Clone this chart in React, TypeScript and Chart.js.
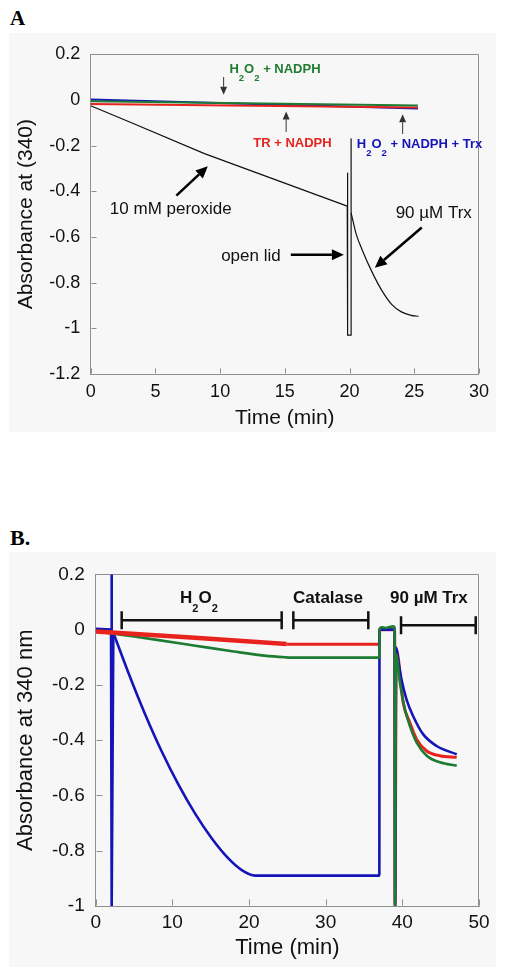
import React, { useEffect, useRef } from "react";
import { Chart, registerables } from "chart.js";
Chart.register(...registerables);

const FONT = "'Liberation Sans', Arial, Helvetica, sans-serif";
const GREEN = "#1e7b32";
const RED = "#e8231d";
const BLUE = "#1414b8";
const AXIS = "#8f8f8f";
const BG = "#f7f7f7";
const INK = "#111";

// ---------- Panel A data ----------
const aGreenTime = [0, 25.28];
const aGreenAbs = [-0.006, -0.024];
const aRedTime = [0, 25.28];
const aRedAbs = [-0.018, -0.033];
const aBlueTime = [0, 25.28];
const aBlueAbs = [0.002, -0.037];
const aPeroxideTime = [0, 3.15, 8.79, 19.82, 19.85, 19.85, 20.12, 20.12, 20.12];
const aPeroxideAbs = [-0.025, -0.1, -0.235, -0.465, -0.32, -1.03, -1.03, -0.17, -0.494];
const aTrxTime = [20.12, 20.5, 21.0, 21.75, 22.5, 23.25, 24.0, 24.75, 25.33];
const aTrxAbs = [-0.494, -0.585, -0.66, -0.755, -0.835, -0.895, -0.928, -0.943, -0.947];

// ---------- Panel B data ----------
const bRedEarlyTime = [0, 12.95, 24.9];
const bRedEarlyAbs = [-0.007, -0.029, -0.052];
const bRedLateTime = [24.9, 37.0, 37.05, 39.0, 39.05, 39.2, 40.13, 41.0, 41.87, 43.18, 44.9, 47.09];
const bRedLateAbs = [-0.053, -0.053, 0.0, 0.0, -1.0, -0.07, -0.267, -0.338, -0.397, -0.439, -0.456, -0.462];
const bGreenTime = [0, 2.1, 5, 8, 13, 18, 22, 24.7, 25.5, 37.0, 37.05, 37.3, 37.8, 38.3, 38.8, 39.0, 39.05, 39.17, 39.7, 40.35, 41.0, 41.87, 43.18, 44.9, 47.09];
const bGreenAbs = [-0.005, -0.014, -0.025, -0.037, -0.058, -0.079, -0.094, -0.1, -0.101, -0.101, 0.003, 0.009, 0.006, 0.01, 0.012, 0.008, -1.0, -0.088, -0.195, -0.29, -0.35, -0.409, -0.456, -0.48, -0.492];
const bBlueSpikeTime = [0, 2.0, 2.05, 2.12, 2.3];
const bBlueSpikeAbs = [0.003, 0.0, 0.2, -1.0, -0.011];
const bBlueTime = [2.3, 4.25, 6.43, 8.6, 10.78, 12.95, 15.13, 17.3, 19.05, 20.8, 37.0, 37.02, 39.0, 39.05, 39.2, 39.47, 39.92, 40.57, 41.43, 42.73, 44.48, 47.09];
const bBlueAbs = [-0.011, -0.155, -0.305, -0.44, -0.56, -0.665, -0.755, -0.828, -0.87, -0.89, -0.89, 0.0, 0.0, -1.0, -0.065, -0.112, -0.184, -0.255, -0.314, -0.379, -0.421, -0.451];

// axis ranges / ticks
const aXRange = [0, 30];
const aXStep = 5;
const aYRange = [-1.2, 0.2];
const bXRange = [0, 50];
const bXStep = 10;
const bYRange = [-1, 0.2];
const yStep = 0.2;

const pts = (xs: number[], ys: number[]) => xs.map((x, i) => ({ x, y: ys[i] }));
const fmt = (v: number) => String(Math.round(v * 10) / 10);

type Part = { t: string; sub?: boolean };
type TextAnn = { parts: Part[]; x: number; y: number; size: number; sub?: number; drop?: number; bold?: boolean; color: string };
type ArrowAnn = { x1: number; y1: number; x2: number; y2: number; w: number; hl: number; hw: number; color: string };
type BracketAnn = { x1: number; x2: number; y: number };

const H2O2: Part[] = [{ t: "H" }, { t: "2", sub: true }, { t: "O" }, { t: "2", sub: true }];

const aTexts: TextAnn[] = [
  { parts: [...H2O2, { t: " + NADPH" }], x: 10.72, y: 0.117, size: 13, sub: 9.5, drop: 8, bold: true, color: GREEN },
  { parts: [{ t: "TR + NADPH" }], x: 12.56, y: -0.2065, size: 13, bold: true, color: RED },
  { parts: [...H2O2, { t: " + NADPH + Trx" }], x: 20.56, y: -0.2095, size: 13, sub: 9.5, drop: 7.7, bold: true, color: BLUE },
  { parts: [{ t: "10 mM peroxide" }], x: 1.48, y: -0.501, size: 17, color: INK },
  { parts: [{ t: "open lid" }], x: 10.08, y: -0.706, size: 17, color: INK },
  { parts: [{ t: "90 µM Trx" }], x: 23.56, y: -0.5155, size: 17, color: INK },
];
const aArrows: ArrowAnn[] = [
  { x1: 10.27, y1: 0.1, x2: 10.27, y2: 0.023, w: 1, hl: 8, hw: 3.5, color: "#333" },
  { x1: 15.1, y1: -0.14, x2: 15.1, y2: -0.05, w: 1, hl: 8, hw: 3.5, color: "#333" },
  { x1: 24.1, y1: -0.149, x2: 24.1, y2: -0.063, w: 1, hl: 8, hw: 3.5, color: "#333" },
  { x1: 6.62, y1: -0.419, x2: 9.05, y2: -0.29, w: 2.5, hl: 12, hw: 5.5, color: "#000" },
  { x1: 15.46, y1: -0.678, x2: 19.56, y2: -0.678, w: 2.5, hl: 12, hw: 5.5, color: "#000" },
  { x1: 25.58, y1: -0.5586, x2: 21.95, y2: -0.735, w: 2.5, hl: 12, hw: 5.5, color: "#000" },
];

const bTexts: TextAnn[] = [
  { parts: H2O2, x: 11.0, y: 0.0978, size: 17, sub: 11, drop: 9.5, bold: true, color: INK },
  { parts: [{ t: "Catalase" }], x: 25.74, y: 0.0978, size: 17, bold: true, color: INK },
  { parts: [{ t: "90 µM Trx" }], x: 38.39, y: 0.0978, size: 17, bold: true, color: INK },
];
const bBrackets: BracketAnn[] = [
  { x1: 3.39, x2: 24.26, y: 0.034 },
  { x1: 25.78, x2: 35.56, y: 0.034 },
  { x1: 39.83, x2: 49.57, y: 0.016 },
];

function drawArrow(ctx: CanvasRenderingContext2D, x1: number, y1: number, x2: number, y2: number, a: ArrowAnn) {
  const ang = Math.atan2(y2 - y1, x2 - x1);
  const bx = x2 - a.hl * Math.cos(ang);
  const by = y2 - a.hl * Math.sin(ang);
  ctx.strokeStyle = a.color;
  ctx.lineWidth = a.w;
  ctx.beginPath();
  ctx.moveTo(x1, y1);
  ctx.lineTo(bx, by);
  ctx.stroke();
  ctx.fillStyle = a.color;
  ctx.beginPath();
  ctx.moveTo(x2, y2);
  ctx.lineTo(bx + a.hw * Math.sin(ang), by - a.hw * Math.cos(ang));
  ctx.lineTo(bx - a.hw * Math.sin(ang), by + a.hw * Math.cos(ang));
  ctx.closePath();
  ctx.fill();
}

const decorPlugin = {
  id: "decor",
  beforeDatasetsDraw(chart: any, _a: any, opts: any) {
    const { ctx, chartArea: ca, scales } = chart;
    ctx.save();
    ctx.strokeStyle = AXIS;
    ctx.lineWidth = 1;
    const top = Math.round(ca.top) + 0.5;
    const right = Math.round(ca.right) - 0.5;
    const left = Math.round(ca.left) + 0.5;
    const bottom = Math.round(ca.bottom) - 0.5;
    ctx.beginPath();
    ctx.moveTo(ca.left, top);
    ctx.lineTo(right, top);
    ctx.lineTo(right, ca.bottom);
    ctx.stroke();
    const tl = opts.tickLen || 5;
    ctx.beginPath();
    for (const t of scales.x.ticks) {
      const px = Math.round(scales.x.getPixelForValue(t.value)) + 0.5;
      ctx.moveTo(px, bottom);
      ctx.lineTo(px, bottom - tl);
    }
    for (const t of scales.y.ticks) {
      const py = Math.round(scales.y.getPixelForValue(t.value)) + 0.5;
      ctx.moveTo(left, py);
      ctx.lineTo(left + tl, py);
    }
    ctx.stroke();
    ctx.restore();
  },
  afterDatasetsDraw(chart: any, _a: any, opts: any) {
    const { ctx, scales } = chart;
    const X = (v: number) => scales.x.getPixelForValue(v);
    const Y = (v: number) => scales.y.getPixelForValue(v);
    ctx.save();
    for (const tx of (opts.texts || []) as TextAnn[]) {
      let cx = X(tx.x);
      const by = Y(tx.y);
      for (const p of tx.parts) {
        const fs = p.sub ? tx.sub || tx.size : tx.size;
        ctx.font = `${tx.bold ? "bold " : ""}${fs}px ${FONT}`;
        ctx.fillStyle = tx.color;
        ctx.textAlign = "left";
        ctx.textBaseline = "alphabetic";
        ctx.fillText(p.t, cx, p.sub ? by + (tx.drop || 0) : by);
        cx += ctx.measureText(p.t).width;
      }
    }
    for (const a of (opts.arrows || []) as ArrowAnn[]) {
      drawArrow(ctx, X(a.x1), Y(a.y1), X(a.x2), Y(a.y2), a);
    }
    ctx.strokeStyle = INK;
    ctx.lineWidth = 2.5;
    for (const b of (opts.brackets || []) as BracketAnn[]) {
      const x1 = X(b.x1), x2 = X(b.x2), y = Y(b.y);
      ctx.beginPath();
      ctx.moveTo(x1, y);
      ctx.lineTo(x2, y);
      ctx.moveTo(x1, y - 9);
      ctx.lineTo(x1, y + 9);
      ctx.moveTo(x2, y - 9);
      ctx.lineTo(x2, y + 9);
      ctx.stroke();
    }
    ctx.restore();
  },
};

function line(data: { x: number; y: number }[], color: string, width: number, smooth = false) {
  return {
    data,
    borderColor: color,
    backgroundColor: color,
    borderWidth: width,
    pointRadius: 0,
    tension: smooth ? 0.4 : 0,
    cubicInterpolationMode: smooth ? ("monotone" as const) : ("default" as const),
    fill: false,
    borderJoinStyle: "round" as const,
  };
}

function makeConfig(p: {
  datasets: any[];
  xRange: number[];
  xStep: number;
  yRange: number[];
  yWidth: number;
  xHeight: number;
  padTop: number;
  padRight: number;
  tickFont: number;
  titleFont: number;
  yTitle: string;
  xLabelPad: number;
  yLabelPad: number;
  yTitlePad: number;
  xTitlePad: number;
  decor: any;
}) {
  return {
    type: "line" as const,
    data: { datasets: p.datasets },
    plugins: [decorPlugin],
    options: {
      animation: false as const,
      responsive: false,
      devicePixelRatio: 1,
      layout: { padding: { top: p.padTop, right: p.padRight, left: 0, bottom: 0 } },
      plugins: {
        legend: { display: false },
        tooltip: { enabled: false },
        decor: p.decor,
      },
      scales: {
        x: {
          type: "linear" as const,
          min: p.xRange[0],
          max: p.xRange[1],
          grid: { display: false, drawTicks: false },
          border: { display: true, color: AXIS, width: 1 },
          ticks: { stepSize: p.xStep, color: INK, padding: p.xLabelPad, font: { family: FONT, size: p.tickFont }, maxRotation: 0, autoSkip: false },
          title: { display: true, text: "Time (min)", color: INK, font: { family: FONT, size: p.titleFont }, padding: { top: 0, bottom: p.xTitlePad } },
          afterFit: (s: any) => { s.height = p.xHeight; },
        },
        y: {
          type: "linear" as const,
          min: p.yRange[0],
          max: p.yRange[1],
          grid: { display: false, drawTicks: false },
          border: { display: true, color: AXIS, width: 1 },
          ticks: { stepSize: yStep, color: INK, padding: p.yLabelPad, font: { family: FONT, size: p.tickFont }, callback: (v: any) => fmt(Number(v)), autoSkip: false },
          title: { display: true, text: p.yTitle, color: INK, font: { family: FONT, size: p.titleFont }, padding: { top: p.yTitlePad, bottom: 0 } },
          afterFit: (s: any) => { s.width = p.yWidth; },
        },
      },
    },
  };
}

function Panel({ build, width, height, left, top }: { build: () => any; width: number; height: number; left: number; top: number }) {
  const ref = useRef<HTMLCanvasElement>(null);
  useEffect(() => {
    const chart = new Chart(ref.current as HTMLCanvasElement, build());
    return () => chart.destroy();
  }, []);
  return (
    <div style={{ position: "absolute", left, top, width, height, background: BG }}>
      <canvas ref={ref} width={width} height={height} style={{ display: "block", width, height }} />
    </div>
  );
}

export default function App() {
  const buildA = () =>
    makeConfig({
      datasets: [
        line(pts(aGreenTime, aGreenAbs), GREEN, 2),
        line(pts(aRedTime, aRedAbs), RED, 2),
        line(pts(aBlueTime, aBlueAbs), BLUE, 2),
        line(pts(aPeroxideTime, aPeroxideAbs), "#111", 1.2),
        line(pts(aTrxTime, aTrxAbs), "#111", 1.2, true),
      ],
      xRange: aXRange,
      xStep: aXStep,
      yRange: aYRange,
      yWidth: 81.7,
      xHeight: 58,
      padTop: 16,
      padRight: 16,
      tickFont: 18,
      titleFont: 21,
      yTitle: "Absorbance at (340)",
      xLabelPad: 7,
      yLabelPad: 10.5,
      yTitlePad: 4.4,
      xTitlePad: 1.4,
      decor: { texts: aTexts, arrows: aArrows, tickLen: 5 },
    });
  const buildB = () =>
    makeConfig({
      datasets: [
        line(pts(bRedEarlyTime, bRedEarlyAbs), RED, 4.5),
        line(pts(bGreenTime, bGreenAbs), GREEN, 2.6, true),
        line(pts(bBlueSpikeTime, bBlueSpikeAbs), BLUE, 2.6),
        line(pts(bBlueTime, bBlueAbs), BLUE, 2.6, true),
        line(pts(bRedLateTime, bRedLateAbs), RED, 3, true),
      ],
      xRange: bXRange,
      xStep: bXStep,
      yRange: bYRange,
      yWidth: 86.7,
      xHeight: 61,
      padTop: 17,
      padRight: 17,
      tickFont: 19,
      titleFont: 22,
      yTitle: "Absorbance at 340 nm",
      xLabelPad: 5.3,
      yLabelPad: 11,
      yTitlePad: 3.8,
      xTitlePad: 5.8,
      decor: { texts: bTexts, brackets: bBrackets, tickLen: 6 },
    });
  return (
    <div style={{ position: "absolute", left: 0, top: 0, width: 505, height: 976, background: "#fff" }}>
      <div style={{ position: "absolute", left: 10, top: 8, font: "bold 21px 'Liberation Serif', 'Times New Roman', serif", lineHeight: "21px", color: "#000" }}>A</div>
      <Panel build={buildA} left={9} top={33} width={487} height={399} />
      <div style={{ position: "absolute", left: 10, top: 527, font: "bold 22px 'Liberation Serif', 'Times New Roman', serif", lineHeight: "22px", color: "#000" }}>B.</div>
      <Panel build={buildB} left={9} top={552} width={487} height={415} />
    </div>
  );
}
